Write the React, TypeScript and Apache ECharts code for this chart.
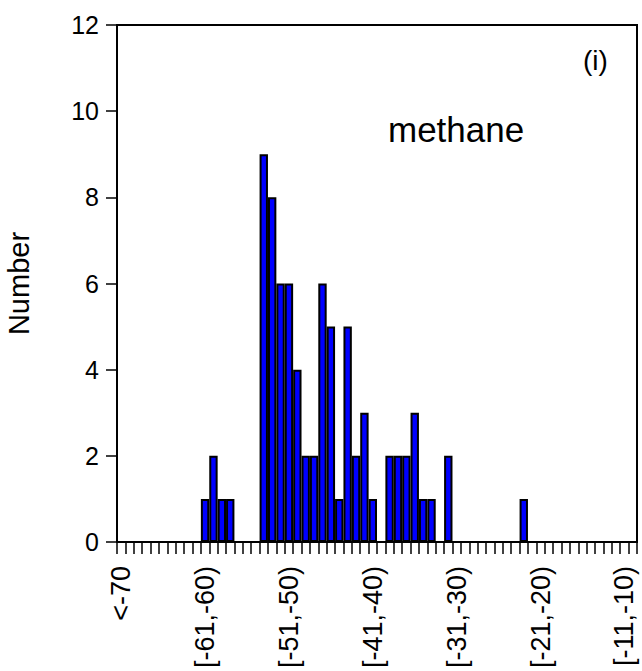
import React, { useEffect, useRef } from "react";
import * as echarts from "echarts";

// Bin labels: index 0 is "<-70", then 1-unit bins [-70,-69) ... [-10,-9)
const binStarts: number[] = [];
for (let s = -70; s <= -10; s++) binStarts.push(s);
const categories: string[] = ["<-70", ...binStarts.map((s) => `[${s},${s + 1})`)];

const counts: number[] = [
  0, 0, 0, 0, 0, 0, 0, 0, 0, 0,
  1, 2, 1, 1, 0, 0, 0, 9, 8, 6,
  6, 4, 2, 2, 6, 5, 1, 5, 2, 3,
  1, 0, 2, 2, 2, 3, 1, 1, 0, 2,
  0, 0, 0, 0, 0, 0, 0, 0, 1, 0,
  0, 0, 0, 0, 0, 0, 0, 0, 0, 0,
  0, 0,
];

const yTicks = { min: 0, max: 12, interval: 2 };
const yName = "Number";
const panelLabel = "(i)";
const gasLabel = "methane";

const FONT = "'Liberation Sans', Arial, Helvetica, sans-serif";

export default function App() {
  const ref = useRef<HTMLDivElement>(null);
  useEffect(() => {
    if (!ref.current) return;
    const chart = echarts.init(ref.current, null, { renderer: "svg" });
    chart.setOption({
      animation: false,
      backgroundColor: "#ffffff",
      textStyle: { fontFamily: FONT },
      grid: {
        left: 117,
        right: 5,
        top: 25,
        bottom: 129,
        outerBoundsMode: "none",
        containLabel: false,
        show: true,
        borderColor: "#000",
        borderWidth: 2,
        backgroundColor: "transparent",
      },
      xAxis: {
        type: "category",
        data: categories,
        boundaryGap: true,
        axisLine: { show: true, lineStyle: { color: "#000", width: 2 } },
        axisTick: {
          show: true,
          interval: 0,
          length: 12,
          inside: false,
          lineStyle: { color: "#000", width: 1.5 },
        },
        axisLabel: {
          interval: 9,
          rotate: 90,
          margin: 24,
          color: "#000",
          fontSize: 27,
          fontFamily: FONT,
          hideOverlap: false,
        },
        splitLine: { show: false },
      },
      yAxis: {
        type: "value",
        min: yTicks.min,
        max: yTicks.max,
        interval: yTicks.interval,
        name: yName,
        nameLocation: "middle",
        nameGap: 84,
        nameTextStyle: { color: "#000", fontSize: 29, fontFamily: FONT },
        axisLine: { show: true, lineStyle: { color: "#000", width: 2 } },
        axisTick: {
          show: true,
          length: 11,
          inside: false,
          lineStyle: { color: "#000", width: 1.5 },
        },
        axisLabel: {
          margin: 18,
          color: "#000",
          fontSize: 25,
          fontFamily: FONT,
        },
        splitLine: { show: false },
      },
      series: [
        {
          type: "bar",
          data: counts,
          barCategoryGap: "0%",
          barGap: "0%",
          itemStyle: {
            color: "#0000ff",
            borderColor: "#000",
            borderWidth: 2,
          },
          emphasis: { disabled: true },
        },
      ],
      graphic: [
        {
          type: "text",
          left: 388,
          top: 112,
          style: {
            text: gasLabel,
            fill: "#000",
            fontSize: 35,
            fontFamily: FONT,
          },
        },
        {
          type: "text",
          left: 583,
          top: 46,
          style: {
            text: panelLabel,
            fill: "#000",
            fontSize: 28,
            fontFamily: FONT,
          },
        },
      ],
    });
    return () => chart.dispose();
  }, []);
  return (
    <div
      ref={ref}
      style={{ position: "absolute", left: 0, top: 0, width: 642, height: 671 }}
    />
  );
}
